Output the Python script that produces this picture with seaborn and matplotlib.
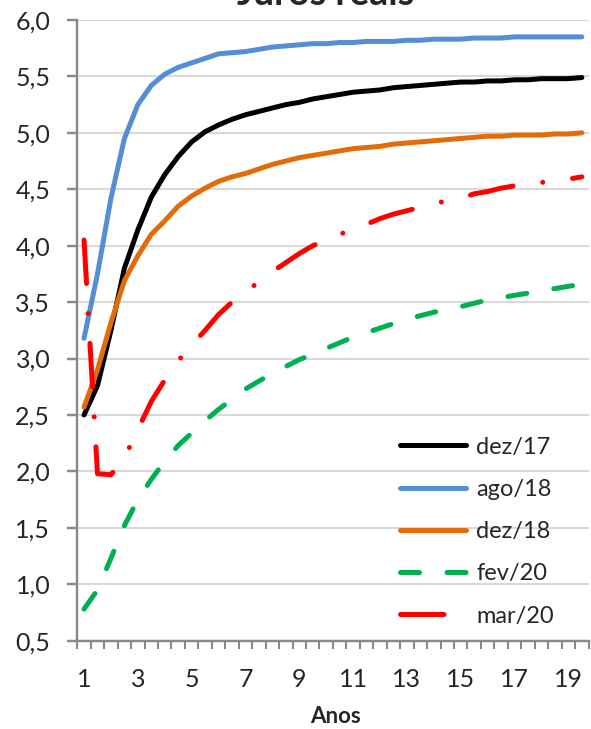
import numpy as np
import pandas as pd
import matplotlib
matplotlib.use("Agg")
import matplotlib.pyplot as plt
import seaborn as sns

# Curva de juros reais (anos x taxa %)
anos = [1.0, 1.5, 2.0, 2.5, 3.0, 3.5, 4.0, 4.5, 5.0, 5.5, 6.0, 6.5, 7.0, 7.5,
        8.0, 8.5, 9.0, 9.5, 10.0, 10.5, 11.0, 11.5, 12.0, 12.5, 13.0, 13.5,
        14.0, 14.5, 15.0, 15.5, 16.0, 16.5, 17.0, 17.5, 18.0, 18.5, 19.0, 19.5]

dez17 = [2.50, 2.76, 3.25, 3.80, 4.14, 4.43, 4.63, 4.79, 4.92, 5.01, 5.07, 5.12,
         5.16, 5.19, 5.22, 5.25, 5.27, 5.30, 5.32, 5.34, 5.36, 5.37, 5.38, 5.40,
         5.41, 5.42, 5.43, 5.44, 5.45, 5.45, 5.46, 5.46, 5.47, 5.47, 5.48, 5.48,
         5.48, 5.49]
ago18 = [3.18, 3.75, 4.42, 4.95, 5.25, 5.42, 5.52, 5.58, 5.62, 5.66, 5.70, 5.71,
         5.72, 5.74, 5.76, 5.77, 5.78, 5.79, 5.79, 5.80, 5.80, 5.81, 5.81, 5.81,
         5.82, 5.82, 5.83, 5.83, 5.83, 5.84, 5.84, 5.84, 5.85, 5.85, 5.85, 5.85,
         5.85, 5.85]
dez18 = [2.57, 2.90, 3.32, 3.69, 3.91, 4.10, 4.22, 4.35, 4.44, 4.51, 4.57, 4.61,
         4.64, 4.68, 4.72, 4.75, 4.78, 4.80, 4.82, 4.84, 4.86, 4.87, 4.88, 4.90,
         4.91, 4.92, 4.93, 4.94, 4.95, 4.96, 4.97, 4.97, 4.98, 4.98, 4.98, 4.99,
         4.99, 5.00]
fev20 = [0.78, 0.95, 1.23, 1.52, 1.75, 1.93, 2.09, 2.23, 2.34, 2.45, 2.55, 2.64,
         2.73, 2.80, 2.87, 2.93, 2.99, 3.04, 3.09, 3.14, 3.19, 3.23, 3.27, 3.31,
         3.35, 3.38, 3.41, 3.44, 3.46, 3.49, 3.52, 3.54, 3.56, 3.58, 3.61, 3.62,
         3.64, 3.66]
mar20 = [4.05, 1.98, 1.97, 2.12, 2.37, 2.62, 2.81, 2.98, 3.12, 3.25, 3.39, 3.50,
         3.59, 3.68, 3.77, 3.85, 3.93, 4.00, 4.05, 4.10, 4.15, 4.19, 4.24, 4.28,
         4.31, 4.34, 4.37, 4.40, 4.42, 4.46, 4.48, 4.51, 4.53, 4.55, 4.56, 4.58,
         4.59, 4.61]

series_names = ["dez/17", "ago/18", "dez/18", "fev/20", "mar/20"]
series_values = [dez17, ago18, dez18, fev20, mar20]
cores = ["#000000", "#558ED5", "#E36C0A", "#00B050", "#FF0000"]
# padroes de traco em unidades de espessura da linha
tracos = [None, None, None, (3.8, 5.5), (8.7, 6.0, 0.01, 6.0)]

yticks = [0.5, 1.0, 1.5, 2.0, 2.5, 3.0, 3.5, 4.0, 4.5, 5.0, 5.5, 6.0]
ytick_labels = ["0,5", "1,0", "1,5", "2,0", "2,5", "3,0", "3,5", "4,0",
                "4,5", "5,0", "5,5", "6,0"]
xticks = [1, 3, 5, 7, 9, 11, 13, 15, 17, 19]
xtick_labels = ["1", "3", "5", "7", "9", "11", "13", "15", "17", "19"]

df = pd.DataFrame({"anos": anos})
for nome, vals in zip(series_names, series_values):
    df[nome] = vals

sns.set_style("white")
plt.rcParams["font.family"] = ["Lato", "DejaVu Sans"]

fig = plt.figure(figsize=(5.91, 7.29), dpi=100)
ax = fig.add_axes([0.1308, 0.1211, 0.8651, 0.8515])

for nome, cor, traco in zip(series_names, cores, tracos):
    sns.lineplot(data=df, x="anos", y=nome, color=cor, linewidth=3.6,
                 label=nome, ax=ax)
    linha = ax.lines[-1]
    linha.set_solid_capstyle("round")
    linha.set_dash_capstyle("round")
    if traco is not None:
        linha.set_dashes(traco)

cinza = "#898989"
ax.set_xlim(0.75, 19.75)
ax.set_ylim(0.5, 6.0)
ax.set_yticks(yticks)
ax.set_yticklabels(ytick_labels)
ax.set_xticks(xticks)
ax.set_xticklabels(xtick_labels)
ax.set_xticks(np.arange(0.75, 19.8, 0.5), minor=True)

ax.grid(axis="y", color="#D9D9D9", linewidth=1.5)
ax.set_axisbelow(True)
for lado in ["top", "right"]:
    ax.spines[lado].set_visible(False)
for lado in ["left", "bottom"]:
    ax.spines[lado].set_color(cinza)
    ax.spines[lado].set_linewidth(1.75)

ax.tick_params(axis="y", which="major", direction="out", length=7.5, width=1.75,
               color=cinza, pad=12, labelsize=18, left=True)
ax.tick_params(axis="x", which="major", length=0, pad=20, labelsize=18, bottom=True)
ax.tick_params(axis="x", which="minor", direction="out", length=6, width=1.5,
               color=cinza, bottom=True)

ax.set_ylabel("")
ax.set_xlabel("Anos", fontsize=16, fontweight="bold", va="center")
ax.xaxis.set_label_coords(0.505, -0.122)

# titulo cortado no topo, como no original
fig.text(326 / 591, 0.9938, "Juros reais", ha="center", va="baseline",
         fontsize=27, fontweight="bold")

ax.legend(loc="center left", bbox_to_anchor=(0.677, 0.2709),
          bbox_transform=fig.transFigure, frameon=False, fontsize=17,
          handlelength=2.8, handletextpad=0.42, labelspacing=0.9,
          borderpad=0, borderaxespad=0)

fig.savefig("out.png", dpi=100)
